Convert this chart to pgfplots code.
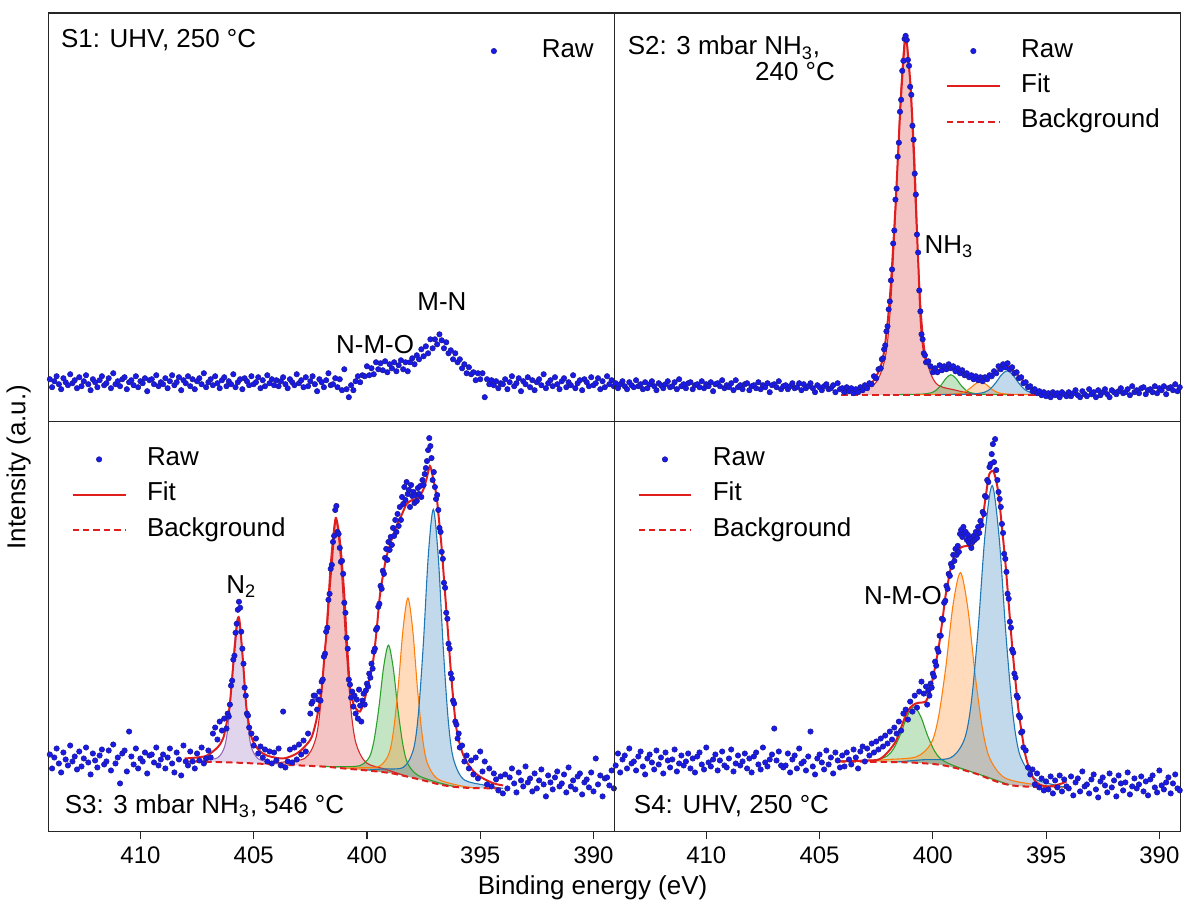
\documentclass[border=0pt]{standalone}
\usepackage{pgfplots}
\usepackage{pgfplotstable}
\pgfplotsset{compat=1.18}
\usepackage{fontspec}
\setmainfont{Liberation Sans}
\definecolor{rawfill}{RGB}{25,25,235}
\definecolor{rawedge}{RGB}{30,30,150}
\definecolor{fitred}{RGB}{225,30,30}
\definecolor{tblue}{RGB}{31,119,180}
\definecolor{torange}{RGB}{255,127,14}
\definecolor{tgreen}{RGB}{44,160,44}
\definecolor{tred}{RGB}{214,39,40}
\definecolor{tpurple}{RGB}{148,103,189}

\pgfplotstableread{
x y
414.0 42
413.9 34
413.8 40
413.7 45
413.6 37
413.5 32
413.4 43
413.3 39
413.2 36
413.1 47
413.0 38
412.9 41
412.8 33
412.7 44
412.6 35
412.5 40
412.4 46
412.3 37
412.2 31
412.1 42
412.0 39
411.9 34
411.8 41
411.7 45
411.6 36
411.5 38
411.4 43
411.3 33
411.2 48
411.1 37
411.0 40
410.9 35
410.8 42
410.7 44
410.6 32
410.5 39
410.4 41
410.3 36
410.2 45
410.1 34
410.0 40
409.9 38
409.8 43
409.7 30
409.6 41
409.5 42
409.4 37
409.3 46
409.2 35
409.1 39
409.0 37
408.9 43
408.8 33
408.7 40
408.6 46
408.5 36
408.4 39
408.3 44
408.2 31
408.1 41
408.0 38
407.9 45
407.8 35
407.7 42
407.6 32
407.5 40
407.4 43
407.3 37
407.2 48
407.1 34
407.0 39
406.9 42
406.8 36
406.7 45
406.6 38
406.5 33
406.4 41
406.3 44
406.2 35
406.1 40
406.0 37
405.9 47
405.8 34
405.7 39
405.6 42
405.5 32
405.4 43
405.3 40
405.2 36
405.1 45
405.0 37
404.9 39
404.8 44
404.7 33
404.6 41
404.5 35
404.4 46
404.3 38
404.2 42
404.1 36
404.0 41
403.9 35
403.8 40
403.7 44
403.6 37
403.5 33
403.4 42
403.3 39
403.2 36
403.1 47
403.0 38
402.9 41
402.8 34
402.7 44
402.6 35
402.5 40
402.4 45
402.3 37
402.2 30
402.1 42
402.0 39
401.9 34
401.8 41
401.7 48
401.6 36
401.5 37
401.4 43
401.3 34
401.2 42
401.1 31
401.0 52
400.9 32
400.8 24
400.7 36
400.6 31
400.5 40
400.4 45
400.3 39
400.2 46
400.1 45
400.0 55
399.9 46
399.8 53
399.7 47
399.6 59
399.5 52
399.4 58
399.3 51
399.2 60
399.1 49
399.0 57
398.9 53
398.8 59
398.7 50
398.6 56
398.5 61
398.4 52
398.3 59
398.2 50
398.1 59
398.0 63
397.9 57
397.8 66
397.7 62
397.6 72
397.5 65
397.4 75
397.3 68
397.2 82
397.1 73
397.0 82
396.9 77
396.8 87
396.7 81
396.6 73
396.5 79
396.4 68
396.3 71
396.2 62
396.1 68
396.0 59
395.9 62
395.8 53
395.7 57
395.6 48
395.5 54
395.4 47
395.3 49
395.2 41
395.1 48
395.0 42
394.9 48
394.8 24
394.7 42
394.6 37
394.5 41
394.4 36
394.3 40
394.2 33
394.1 38
394.0 37
393.9 42
393.8 32
393.7 39
393.6 45
393.5 35
393.4 38
393.3 43
393.2 30
393.1 40
393.0 37
392.9 44
392.8 34
392.7 41
392.6 31
392.5 39
392.4 42
392.3 36
392.2 47
392.1 33
392.0 38
391.9 41
391.8 35
391.7 44
391.6 37
391.5 32
391.4 40
391.3 43
391.2 34
391.1 39
391.0 36
390.9 46
390.8 33
390.7 38
390.6 41
390.5 31
390.4 42
390.3 39
390.2 35
390.1 44
390.0 36
389.9 38
389.8 43
389.7 32
389.6 40
389.5 34
389.4 45
389.3 37
389.2 41
389.1 35
}\rawA

\pgfplotstableread{
x y
414.0 38
413.9 33
413.8 37
413.7 40
413.6 35
413.5 32
413.4 39
413.3 36
413.2 34
413.1 41
413.0 35
412.9 37
412.8 32
412.7 39
412.6 33
412.5 37
412.4 40
412.3 35
412.2 31
412.1 38
412.0 36
411.9 33
411.8 37
411.7 40
411.6 34
411.5 35
411.4 39
411.3 32
411.2 42
411.1 35
411.0 37
410.9 33
410.8 38
410.7 39
410.6 32
410.5 36
410.4 37
410.3 34
410.2 40
410.1 33
410.0 37
409.9 35
409.8 39
409.7 30
409.6 37
409.5 38
409.4 35
409.3 41
409.2 33
409.1 36
409.0 34
408.9 38
408.8 31
408.7 41
408.6 34
408.5 36
408.4 32
408.3 37
408.2 38
408.1 31
408.0 35
407.9 36
407.8 33
407.7 39
407.6 32
407.5 36
407.4 34
407.3 38
407.2 29
407.1 36
407.0 37
406.9 34
406.8 40
406.7 32
406.6 35
406.5 36
406.4 32
406.3 35
406.2 38
406.1 33
406.0 34
405.9 38
405.8 31
405.7 37
405.6 33
405.5 35
405.4 38
405.3 33
405.2 29
405.1 36
405.0 34
404.9 31
404.8 35
404.7 37
404.6 32
404.5 33
404.4 36
404.3 29
404.2 38
404.1 32
404.0 33
403.9 29
403.8 34
403.7 30
403.6 33
403.5 28
403.4 32
403.3 29
403.2 34
403.1 31
403.0 36
402.9 33
402.8 38
402.7 37
402.6 45
402.5 43
402.4 52
402.3 53
402.25 62
402.2 63
402.15 72
402.1 76
402.05 90
402.0 95
401.95 112
401.9 120
401.85 141
401.8 152
401.75 178
401.7 191
401.65 222
401.6 233
401.55 265
401.5 279
401.45 310
401.4 322
401.35 351
401.3 361
401.25 383
401.2 386
401.15 382
401.1 362
401.05 356
401.0 335
400.95 327
400.9 296
400.85 282
400.8 248
400.75 227
400.7 187
400.65 169
400.6 131
400.55 110
400.5 87
400.45 82
400.4 68
400.35 66
400.3 59
400.2 60
400.1 55
400.0 49
399.9 53
399.8 49
399.7 56
399.6 51
399.5 55
399.4 52
399.3 57
399.2 53
399.1 55
399.0 50
398.9 53
398.8 48
398.7 51
398.6 46
398.5 48
398.4 44
398.3 46
398.2 42
398.1 45
398.0 41
397.9 44
397.8 40
397.7 44
397.6 42
397.5 46
397.4 45
397.3 50
397.2 48
397.1 55
397.0 52
396.9 57
396.8 54
396.7 58
396.6 52
396.5 54
396.4 48
396.3 49
396.2 43
396.1 44
396.0 38
395.9 39
395.8 34
395.7 35
395.6 30
395.5 32
395.4 28
395.3 30
395.2 26
395.1 29
395.0 25
394.9 28
394.8 24
394.7 29
394.6 26
394.5 28
394.4 24
394.3 29
394.2 27
394.1 25
394.0 29
393.9 25
393.8 28
393.7 31
393.6 26
393.5 24
393.4 30
393.3 27
393.2 25
393.1 32
393.0 27
392.9 29
392.8 24
392.7 31
392.6 26
392.5 29
392.4 32
392.3 27
392.2 24
392.1 31
392.0 29
391.9 27
391.8 30
391.7 33
391.6 28
391.5 29
391.4 32
391.3 26
391.2 35
391.1 29
391.0 31
390.9 28
390.8 33
390.7 34
390.6 27
390.5 31
390.4 32
390.3 29
390.2 35
390.1 28
390.0 33
389.9 31
389.8 35
389.7 27
389.6 33
389.5 34
389.4 31
389.3 37
389.2 30
389.1 34
}\rawB

\pgfplotstableread{
x y
414.0 77
413.9 63
413.8 74
413.7 83
413.6 68
413.5 59
413.4 79
413.3 72
413.2 66
413.1 86
413.0 70
412.9 75
412.8 62
412.7 80
412.6 65
412.5 73
412.4 84
412.3 69
412.2 57
412.1 78
412.0 71
411.9 64
411.8 76
411.7 82
411.6 67
411.5 70
411.4 81
411.3 61
411.2 87
411.1 68
411.0 74
410.9 48
410.8 78
410.7 81
410.6 60
410.5 100
410.4 75
410.3 67
410.2 83
410.1 63
410.0 73
409.9 70
409.8 79
409.7 58
409.6 76
409.5 77
409.4 69
409.3 84
409.2 66
409.1 72
409.0 77
408.9 63
408.8 74
408.7 83
408.6 68
408.5 59
408.4 79
408.3 72
408.2 56
408.1 86
408.0 70
407.9 66
407.8 80
407.7 70
407.6 63
407.5 78
407.4 71
407.3 84
407.2 68
407.1 73
407.0 81
406.9 74
406.8 98
406.7 104
406.6 92
406.5 110
406.4 101
406.3 113
406.2 103
406.15 118
406.1 115
406.05 127
406.0 146
405.95 151
405.9 172
405.85 176
405.8 199
405.75 208
405.7 222
405.65 230
405.6 224
405.55 200
405.5 183
405.45 168
405.4 144
405.35 136
405.3 118
405.25 116
405.2 104
405.1 98
405.0 86
404.9 93
404.8 78
404.7 85
404.6 74
404.5 82
404.4 70
404.3 80
404.2 68
404.1 79
404.0 71
403.9 83
403.8 66
403.7 120
403.6 64
403.5 70
403.4 82
403.3 69
403.2 84
403.1 72
403.0 87
402.9 77
402.8 91
402.7 80
402.6 98
402.5 118
402.45 128
402.4 130
402.35 136
402.3 136
402.2 122
402.15 132
402.1 140
402.05 131
402.0 150
401.95 152
401.9 175
401.85 178
401.8 200
401.75 204
401.7 232
401.65 238
401.6 263
401.55 267
401.5 290
401.45 296
401.4 322
401.35 326
401.3 300
401.25 298
401.2 284
401.15 270
401.1 271
401.05 258
401.0 229
400.95 219
400.9 194
400.85 183
400.8 152
400.75 147
400.7 134
400.65 140
400.6 125
400.55 136
400.5 118
400.45 132
400.4 113
400.35 142
400.3 126
400.25 110
400.2 131
400.15 138
400.1 127
400.05 141
400.0 148
399.95 145
399.9 158
399.85 154
399.8 168
399.75 163
399.7 180
399.65 183
399.6 202
399.55 204
399.5 225
399.45 228
399.4 246
399.35 243
399.3 261
399.25 258
399.2 274
399.15 283
399.1 272
399.05 290
399.0 282
398.95 295
398.9 287
398.85 304
398.8 296
398.75 312
398.7 300
398.65 318
398.6 306
398.55 325
398.5 312
398.45 335
398.4 328
398.35 345
398.3 332
398.25 350
398.2 338
398.15 342
398.1 325
398.05 347
398.0 336
397.95 340
397.9 329
397.85 337
397.8 331
397.75 344
397.7 338
397.65 346
397.6 335
397.55 352
397.5 347
397.45 358
397.4 364
397.35 371
397.3 382
397.25 394
397.2 386
397.15 374
397.1 352
397.05 360
397.0 345
396.95 333
396.9 337
396.85 322
396.8 304
396.75 300
396.7 280
396.65 273
396.6 249
396.55 244
396.5 219
396.45 213
396.4 188
396.35 183
396.3 158
396.25 153
396.2 131
396.15 128
396.1 110
396.05 107
396.0 93
395.95 98
395.9 84
395.8 86
395.7 70
395.6 76
395.5 63
395.4 71
395.3 57
395.2 74
395.1 53
395.0 80
394.9 60
394.8 70
394.7 47
394.6 63
394.5 45
394.4 58
394.3 52
394.2 41
394.1 55
394.0 38
393.9 57
393.8 43
393.7 54
393.6 63
393.5 48
393.4 39
393.3 59
393.2 51
393.1 45
393.0 65
392.9 49
392.8 53
392.7 40
392.6 58
392.5 43
392.4 51
392.3 62
392.2 47
392.1 35
392.0 56
391.9 49
391.8 42
391.7 54
391.6 60
391.5 45
391.4 48
391.3 57
391.2 39
391.1 64
391.0 45
390.9 51
390.8 42
390.7 55
390.6 58
390.5 37
390.4 49
390.3 52
390.2 44
390.1 59
390.0 40
389.9 73
389.8 47
389.7 56
389.6 35
389.5 53
389.4 54
389.3 46
389.2 61
389.1 43
}\rawC

\pgfplotstableread{
x y
414.0 66
413.9 78
413.8 59
413.7 72
413.6 76
413.5 63
413.4 83
413.3 68
413.2 70
413.1 61
413.0 75
412.9 80
412.8 65
412.7 57
412.6 73
412.5 77
412.4 69
412.3 62
412.2 81
412.1 67
412.0 74
411.9 58
411.8 79
411.7 71
411.6 64
411.5 72
411.4 82
411.3 60
411.2 68
411.1 76
411.0 66
410.9 70
410.8 78
410.7 63
410.6 73
410.5 59
410.4 75
410.3 79
410.2 67
410.1 62
410.0 84
409.9 69
409.8 65
409.7 72
409.6 77
409.5 61
409.4 71
409.3 80
409.2 66
409.1 64
409.0 73
408.9 82
408.8 60
408.7 68
408.6 76
408.5 66
408.4 70
408.3 78
408.2 63
408.1 73
408.0 59
407.9 75
407.8 79
407.7 67
407.6 62
407.5 84
407.4 69
407.3 65
407.2 72
407.1 77
407.0 103
406.9 71
406.8 80
406.7 66
406.6 64
406.5 66
406.4 78
406.3 59
406.2 72
406.1 76
406.0 63
405.9 83
405.8 68
405.7 70
405.6 61
405.5 75
405.4 100
405.3 65
405.2 57
405.1 73
405.0 77
404.9 69
404.8 62
404.7 81
404.6 67
404.5 74
404.4 58
404.3 79
404.2 71
404.1 64
404.0 76
403.9 65
403.8 79
403.7 72
403.6 67
403.5 82
403.4 74
403.3 63
403.2 80
403.1 85
403.0 70
402.9 83
402.8 76
402.7 88
402.6 79
402.5 90
402.4 82
402.3 93
402.2 85
402.1 96
402.0 88
401.9 100
401.8 92
401.7 104
401.6 98
401.5 110
401.4 101
401.3 118
401.2 122
401.1 112
401.0 130
400.9 120
400.8 136
400.7 124
400.6 140
400.5 150
400.4 138
400.3 145
400.25 127
400.2 141
400.15 136
400.1 148
400.05 144
400.0 158
399.95 155
399.9 170
399.85 166
399.8 183
399.75 180
399.7 196
399.65 196
399.6 213
399.55 212
399.5 229
399.45 231
399.4 246
399.35 243
399.3 258
399.25 256
399.2 268
399.15 265
399.1 277
399.05 271
399.0 283
398.95 277
398.9 286
398.85 280
398.8 298
398.75 302
398.7 295
398.65 305
398.6 298
398.55 300
398.5 292
398.45 297
398.4 289
398.35 293
398.3 284
398.25 290
398.2 296
398.15 292
398.1 300
398.05 294
398.0 305
397.95 299
397.9 311
397.85 307
397.8 320
397.75 318
397.7 336
397.65 335
397.6 352
397.55 350
397.5 365
397.45 368
397.4 378
397.35 388
397.3 370
397.25 393
397.2 362
397.15 352
397.1 340
397.05 333
397.0 325
396.95 308
396.9 299
396.85 278
396.8 273
396.75 260
396.7 238
396.65 233
396.6 210
396.55 204
396.5 182
396.45 179
396.4 158
396.35 154
396.3 136
396.25 134
396.2 116
396.15 114
396.1 99
396.05 100
396.0 84
395.9 81
395.8 64
395.7 57
395.6 62
395.5 47
395.4 58
395.3 44
395.2 53
395.1 41
395.0 50
394.9 42
394.8 55
394.7 38
394.6 51
394.5 44
394.4 56
394.3 40
394.2 52
394.1 45
394.0 43
393.9 55
393.8 36
393.7 49
393.6 53
393.5 40
393.4 60
393.3 45
393.2 47
393.1 38
393.0 52
392.9 57
392.8 42
392.7 34
392.6 50
392.5 54
392.4 46
392.3 39
392.2 58
392.1 44
392.0 51
391.9 35
391.8 56
391.7 48
391.6 41
391.5 49
391.4 59
391.3 37
391.2 45
391.1 53
391.0 43
390.9 47
390.8 55
390.7 40
390.6 50
390.5 36
390.4 52
390.3 56
390.2 44
390.1 39
390.0 61
389.9 46
389.8 42
389.7 49
389.6 54
389.5 38
389.4 48
389.3 57
389.2 43
389.1 41
}\rawD

\tikzset{lbl/.style={font=\fontsize{13}{15}\selectfont, inner sep=0pt}}
\pgfplotsset{
  panel/.style={scale only axis, width=283.5pt, xmin=389.07, xmax=414.05,
    x dir=reverse, ymin=0, ytick=\empty,
    axis line style={line width=0.6pt, black!85},
    tick style={line width=0.6pt, black!85},
    legend cell align=left,
    legend style={draw=none, fill=none, inner sep=0pt, outer sep=0pt,
      anchor=north west, font=\fontsize{13}{15}\selectfont, row sep=5.75pt,
      nodes={inner sep=0pt, text height=9pt, text depth=3pt}}},
  bottompanel/.style={panel, xtick={390,395,400,405,410}, xtick pos=left,
    tick align=outside, major tick length=4pt,
    /pgf/number format/assume math mode=true,
    xticklabel style={font=\fontsize{12}{14}\selectfont}},
  toppanel/.style={panel, xtick=\empty},
  raw/.style={only marks, mark=*, mark size=1.35pt,
    mark options={fill=rawfill, draw=rawedge, line width=0.3pt}, forget plot},
  fitst/.style={fitred, line width=1pt, smooth, forget plot},
  bgst/.style={fitred, line width=1pt, dash pattern=on 3.2pt off 2pt, smooth, forget plot},
  comp/.style={#1, line width=0.55pt, smooth, forget plot},
  fillc/.style={draw=none, fill=#1, fill opacity=0.28, smooth, forget plot},
  rawleg/.style={legend image code/.code={\path[draw=none,fill=none] (0pt,0pt) -- (37.25pt,0pt);
    \draw[rawedge, fill=rawfill, line width=0.3pt] (13.25pt,0pt) circle (1.35pt);}},
  fitleg/.style={legend image code/.code={\path[draw=none,fill=none] (0pt,0pt) -- (37.25pt,0pt);
    \draw[fitred, line width=1pt] (0pt,0pt) -- (26.5pt,0pt);}},
  bgleg/.style={legend image code/.code={\path[draw=none,fill=none] (0pt,0pt) -- (37.25pt,0pt);
    \draw[fitred, line width=1pt, dash pattern=on 3.2pt off 2pt] (0pt,0pt) -- (26.5pt,0pt);}},
}

\begin{document}
\begin{tikzpicture}

% ---------------- S1 ----------------
\begin{axis}[toppanel, at={(0pt,205.5pt)}, anchor=south west, height=204.5pt, ymax=409,
  legend style={at={(0.740,0.936)}}]
\addplot[raw] table {\rawA};
\addlegendimage{rawleg}\addlegendentry{Raw}
\node[lbl, anchor=west] at (axis cs:413.52,382) {S1: UHV, 250 °C};
\node[lbl] at (axis cs:396.69,120) {M-N};
\node[lbl] at (axis cs:399.64,77) {N-M-O};
\end{axis}

% ---------------- S2 ----------------
\begin{axis}[toppanel, at={(283.5pt,205.5pt)}, anchor=south west, height=204.5pt, ymax=409,
  legend style={at={(0.5855,0.936)}}]
\addplot[fillc=tred] coordinates {(404.05,28.5)(403.45,30.8)(402.55,37.7)(402.1,64)(401.875,112.8)(401.65,207)(401.425,325.8)(401.2,387.5)(400.975,325.8)(400.75,207)(400.525,112.8)(400.3,64)(399.85,37.7)(398.95,30.8)(398.05,26.5)(404.05,26.5)};
\addplot[fillc=tgreen] coordinates {(401.75,26.5)(401.33,26.7)(400.48,27.1)(400.05,28.6)(399.84,31.3)(399.625,36.5)(399.41,43.1)(399.2,46.5)(398.99,43.1)(398.775,36.5)(398.56,31.3)(398.35,28.6)(397.925,27.1)(397.075,26.7)(396.65,26.5)};
\addplot[fillc=torange] coordinates {(400.6,26.5)(400.15,26.7)(399.25,26.9)(398.8,27.9)(398.575,29.6)(398.35,33)(398.125,37.3)(397.9,39.5)(397.675,37.3)(397.45,33)(397.225,29.6)(397.0,27.9)(396.55,26.9)(395.65,26.7)(395.2,26.5)};
\addplot[fillc=tblue] coordinates {(399.72,26.5)(399.22,26.8)(398.22,27.2)(397.72,29)(397.47,32.2)(397.22,38.5)(396.97,46.4)(396.72,50.5)(396.47,46.4)(396.22,38.5)(395.97,32.2)(395.72,29)(395.22,27.2)(394.6,26.9)(394.15,26.5)};
\addplot[comp=tred] coordinates {(404.05,28.5)(403.45,30.8)(402.55,37.7)(402.1,64)(401.875,112.8)(401.65,207)(401.425,325.8)(401.2,387.5)(400.975,325.8)(400.75,207)(400.525,112.8)(400.3,64)(399.85,37.7)(398.95,30.8)(398.05,26.5)};
\addplot[comp=tgreen] coordinates {(401.75,26.5)(401.33,26.7)(400.48,27.1)(400.05,28.6)(399.84,31.3)(399.625,36.5)(399.41,43.1)(399.2,46.5)(398.99,43.1)(398.775,36.5)(398.56,31.3)(398.35,28.6)(397.925,27.1)(397.075,26.7)(396.65,26.5)};
\addplot[comp=torange] coordinates {(400.6,26.5)(400.15,26.7)(399.25,26.9)(398.8,27.9)(398.575,29.6)(398.35,33)(398.125,37.3)(397.9,39.5)(397.675,37.3)(397.45,33)(397.225,29.6)(397.0,27.9)(396.55,26.9)(395.65,26.7)(395.2,26.5)};
\addplot[comp=tblue] coordinates {(399.72,26.5)(399.22,26.8)(398.22,27.2)(397.72,29)(397.47,32.2)(397.22,38.5)(396.97,46.4)(396.72,50.5)(396.47,46.4)(396.22,38.5)(395.97,32.2)(395.72,29)(395.22,27.2)(394.6,26.9)(394.15,26.5)};
\addplot[raw] table {\rawB};
\addplot[bgst] coordinates {(404.05,26.5)(394.15,26.5)};
\addplot[fitst] coordinates {(404.05,32)(403.6,31)(403.26,30.5)(402.9,34)(402.67,39)(402.45,47)(402.3,55)(402.18,66)(402.08,82)(401.97,105)(401.86,135)(401.75,175)(401.64,219)(401.53,270)(401.42,319)(401.31,358)(401.2,387)(401.09,365)(400.98,335)(400.9,300)(400.83,269)(400.76,228)(400.69,185)(400.61,140)(400.54,102)(400.45,78)(400.32,62)(400.1,53)(399.88,50)(399.55,53)(399.22,54)(398.9,51)(398.56,47)(398.2,44)(397.83,42)(397.5,44)(397.24,49)(396.95,54)(396.72,55)(396.45,51)(396.21,45)(395.9,38)(395.62,32)(395.3,28.5)(395.03,27)(394.6,27)(394.15,27)};
\addlegendimage{rawleg}\addlegendentry{Raw}
\addlegendimage{fitleg}\addlegendentry{Fit}
\addlegendimage{bgleg}\addlegendentry{Background}
\node[lbl, anchor=west] at (axis cs:413.48,374) {S2: 3 mbar NH\textsubscript{3},};
\node[lbl, anchor=east] at (axis cs:404.31,350) {240 °C};
\node[lbl] at (axis cs:399.29,175) {NH\textsubscript{3}};
\end{axis}

% ---------------- S3 ----------------
\begin{axis}[bottompanel, at={(0pt,0pt)}, anchor=south west, height=205.5pt, ymax=411,
  legend style={at={(0.0406,0.936)}}]
\addplot[fillc=tpurple] coordinates {(407.79,70)(407.19,71.4)(406.59,73.8)(406.29,84.4)(406.14,104)(405.99,142)(405.84,190)(405.69,214.7)(405.54,189.6)(405.39,141.5)(405.24,103.3)(405.09,83.5)(404.79,72.5)(404.19,69.2)(403.59,67)(404.5,67.5)(406,69)(407,69.5)};
\addplot[fillc=tred] coordinates {(404.53,67.5)(403.63,69.6)(402.73,73.4)(402.28,91.2)(402.055,124.6)(401.83,189.2)(401.605,270.7)(401.38,312.8)(401.155,269.7)(400.93,187.4)(400.705,121.9)(400.48,87.9)(400.03,68.8)(399.13,61.9)(398.23,55)(399,58.5)(400,61)(401,63)(402,65)(403.5,66.5)};
\addplot[fillc=tgreen] coordinates {(402.03,65)(401.18,64.9)(400.33,65.7)(399.9,74.1)(399.69,90.8)(399.475,123.7)(399.26,165.2)(399.05,186.6)(398.84,163.7)(398.625,120.7)(398.41,86.3)(398.2,68)(397.775,56.5)(396.925,49.3)(396.075,44.5)(396.8,47)(397.5,51)(398.25,55)(399,58.5)(400,61)(401,63)};
\addplot[fillc=torange] coordinates {(401.165,63.3)(400.315,63.7)(399.465,65.1)(399.04,77.2)(398.83,100.5)(398.615,146.2)(398.4,204.1)(398.19,233.7)(397.98,202)(397.765,141.9)(397.55,94.1)(397.34,68.7)(396.915,53.1)(396.065,46.6)(395.215,43.3)(396.3,45)(396.8,47)(397.5,51)(398.25,55)(399,58.5)(400,61)};
\addplot[fillc=tblue] coordinates {(400.15,61.3)(399.27,62.5)(398.39,64.2)(397.95,81.9)(397.73,117.8)(397.51,188.1)(397.29,277)(397.07,322.6)(396.85,274.4)(396.63,183.2)(396.41,110.9)(396.19,73.3)(395.75,52.4)(394.87,46.5)(393.99,43)(395.5,43.5)(396.3,45)(396.8,47)(397.5,51)(398.25,55)(399,58.5)};
\addplot[comp=tpurple] coordinates {(407.79,70)(407.19,71.4)(406.59,73.8)(406.29,84.4)(406.14,104)(405.99,142)(405.84,190)(405.69,214.7)(405.54,189.6)(405.39,141.5)(405.24,103.3)(405.09,83.5)(404.79,72.5)(404.19,69.2)(403.59,67)};
\addplot[comp=tred] coordinates {(404.53,67.5)(403.63,69.6)(402.73,73.4)(402.28,91.2)(402.055,124.6)(401.83,189.2)(401.605,270.7)(401.38,312.8)(401.155,269.7)(400.93,187.4)(400.705,121.9)(400.48,87.9)(400.03,68.8)(399.13,61.9)(398.23,55)};
\addplot[comp=tgreen] coordinates {(402.03,65)(401.18,64.9)(400.33,65.7)(399.9,74.1)(399.69,90.8)(399.475,123.7)(399.26,165.2)(399.05,186.6)(398.84,163.7)(398.625,120.7)(398.41,86.3)(398.2,68)(397.775,56.5)(396.925,49.3)(396.075,44.5)};
\addplot[comp=torange] coordinates {(401.165,63.3)(400.315,63.7)(399.465,65.1)(399.04,77.2)(398.83,100.5)(398.615,146.2)(398.4,204.1)(398.19,233.7)(397.98,202)(397.765,141.9)(397.55,94.1)(397.34,68.7)(396.915,53.1)(396.065,46.6)(395.215,43.3)};
\addplot[comp=tblue] coordinates {(400.15,61.3)(399.27,62.5)(398.39,64.2)(397.95,81.9)(397.73,117.8)(397.51,188.1)(397.29,277)(397.07,322.6)(396.85,274.4)(396.63,183.2)(396.41,110.9)(396.19,73.3)(395.75,52.4)(394.87,46.5)(393.99,43)};
\addplot[raw] table {\rawC};
\addplot[bgst] coordinates {(408.05,70)(406,69)(404,67)(402,65)(401,63)(400,61)(399,58.5)(398.25,55)(397.5,51)(396.8,47)(396.3,45)(395.5,43.5)(394,43)};
\addplot[fitst] coordinates {(408.05,73)(407.5,74)(407.06,76)(406.6,84)(406.35,93)(406.2,108)(406.06,126)(405.89,170)(405.75,205)(405.69,214)(405.62,210)(405.47,170)(405.33,126)(405.2,106)(405.08,93)(404.8,82)(404.42,76)(403.7,73)(403.1,78)(402.7,86)(402.43,95)(402.2,115)(402.0,143)(401.88,175)(401.77,203)(401.66,240)(401.55,270)(401.45,300)(401.38,314)(401.3,308)(401.2,292)(401.11,270)(401.0,237)(400.92,203)(400.83,170)(400.75,145)(400.6,128)(400.45,122)(400.31,120)(400.15,128)(400.0,142)(399.85,158)(399.72,172)(399.58,200)(399.43,236)(399.28,258)(399.13,276)(398.9,293)(398.69,306)(398.45,318)(398.25,328)(398.0,332)(397.74,334)(397.5,343)(397.35,355)(397.22,366)(397.1,356)(396.93,336)(396.82,312)(396.71,286)(396.6,253)(396.49,220)(396.38,186)(396.27,153)(396.16,125)(396.05,103)(395.85,83)(395.61,70)(395.25,59)(394.87,53)(394.4,48)(393.99,46)};
\addlegendimage{rawleg}\addlegendentry{Raw}
\addlegendimage{fitleg}\addlegendentry{Fit}
\addlegendimage{bgleg}\addlegendentry{Background}
\node[lbl, anchor=west] at (axis cs:413.35,25) {S3: 3 mbar NH\textsubscript{3}, 546 °C};
\node[lbl] at (axis cs:405.55,245) {N\textsubscript{2}};
\end{axis}

% ---------------- S4 ----------------
\begin{axis}[bottompanel, at={(283.5pt,0pt)}, anchor=south west, height=205.5pt, ymax=411,
  legend style={at={(0.0406,0.936)}}]
\addplot[fillc=tgreen] coordinates {(404.14,70)(403.83,70.7)(402.63,71.3)(402.03,75.3)(401.73,82.8)(401.43,97.2)(401.13,115.5)(400.83,124.8)(400.53,114.8)(400.23,95.8)(399.93,80.7)(399.63,72.2)(399.03,65.4)(397.83,56.2)(396.63,46.6)(397.5,52.5)(398,57)(398.5,60.5)(399,63.5)(399.5,66)(400,67.5)(401,69)(402,69.5)(403,69.8)};
\addplot[fillc=torange] coordinates {(403.33,69.8)(402.03,71.9)(400.73,74.7)(400.08,88.1)(399.755,113.9)(399.43,164.1)(399.105,227.4)(398.78,259.2)(398.455,223.5)(398.13,156.4)(397.805,102.3)(397.48,72.8)(396.83,53.7)(395.53,46.9)(394.23,44)(395,44)(396,45)(396.5,46)(397,48.5)(397.5,52.5)(398,57)(398.5,60.5)(399,63.5)(399.5,66)(400,67.5)(401,69)(402,69.5)};
\addplot[fillc=tblue] coordinates {(401.685,69.3)(400.455,71.7)(399.225,73.7)(398.61,92)(398.3,129.6)(397.995,204.5)(397.69,298.8)(397.38,346.5)(397.07,293.6)(396.765,194.8)(396.46,116.4)(396.15,76)(395.535,53.6)(394.9,48)(394.1,44)(395,44)(396,45)(396.5,46)(397,48.5)(397.5,52.5)(398,57)(398.5,60.5)(399,63.5)(399.5,66)(400,67.5)(401,69)};
\addplot[comp=tgreen] coordinates {(404.14,70)(403.83,70.7)(402.63,71.3)(402.03,75.3)(401.73,82.8)(401.43,97.2)(401.13,115.5)(400.83,124.8)(400.53,114.8)(400.23,95.8)(399.93,80.7)(399.63,72.2)(399.03,65.4)(397.83,56.2)(396.63,46.6)};
\addplot[comp=torange] coordinates {(403.33,69.8)(402.03,71.9)(400.73,74.7)(400.08,88.1)(399.755,113.9)(399.43,164.1)(399.105,227.4)(398.78,259.2)(398.455,223.5)(398.13,156.4)(397.805,102.3)(397.48,72.8)(396.83,53.7)(395.53,46.9)(394.23,44)};
\addplot[comp=tblue] coordinates {(401.685,69.3)(400.455,71.7)(399.225,73.7)(398.61,92)(398.3,129.6)(397.995,204.5)(397.69,298.8)(397.38,346.5)(397.07,293.6)(396.765,194.8)(396.46,116.4)(396.15,76)(395.535,53.6)(394.9,48)(394.1,44)};
\addplot[raw] table {\rawD};
\addplot[bgst] coordinates {(404.14,70)(402,69.5)(401,69)(400,67.5)(399.5,66)(399,63.5)(398.5,60.5)(398,57)(397.5,52.5)(397,48.5)(396.5,46)(396,45)(395,44)(394.1,44)};
\addplot[fitst] coordinates {(404.14,70)(403.5,70.5)(402.9,71)(402.38,72)(402.0,79)(401.64,90)(401.4,104)(401.2,116)(401.0,124)(400.76,128)(400.55,129)(400.32,130)(400.15,138)(400.03,150)(399.88,167)(399.73,186)(399.58,211)(399.44,236)(399.3,253)(399.22,263)(399.1,272)(399.0,278)(398.85,283)(398.71,285)(398.5,286)(398.27,286)(398.05,295)(397.83,310)(397.68,333)(397.53,356)(397.4,361)(397.31,360)(397.2,351)(397.09,336)(396.95,305)(396.8,270)(396.65,228)(396.5,186)(396.35,150)(396.21,120)(396.05,95)(395.91,76)(395.7,60)(395.47,50)(395.2,46)(394.88,45)(394.6,46)(394.3,48)(394.1,50)};
\addlegendimage{rawleg}\addlegendentry{Raw}
\addlegendimage{fitleg}\addlegendentry{Fit}
\addlegendimage{bgleg}\addlegendentry{Background}
\node[lbl, anchor=west] at (axis cs:413.21,25) {S4: UHV, 250 °C};
\node[lbl] at (axis cs:401.32,236) {N-M-O};
\end{axis}

\node[font=\fontsize{13}{15}\selectfont, rotate=90] at (-15pt,182.5pt) {Intensity (a.u.)};
\node[font=\fontsize{13}{15}\selectfont] at (272.5pt,-28.5pt) {Binding energy (eV)};
\path (-24pt,-34.5pt) rectangle (569pt,416.5pt);
\end{tikzpicture}
\end{document}
